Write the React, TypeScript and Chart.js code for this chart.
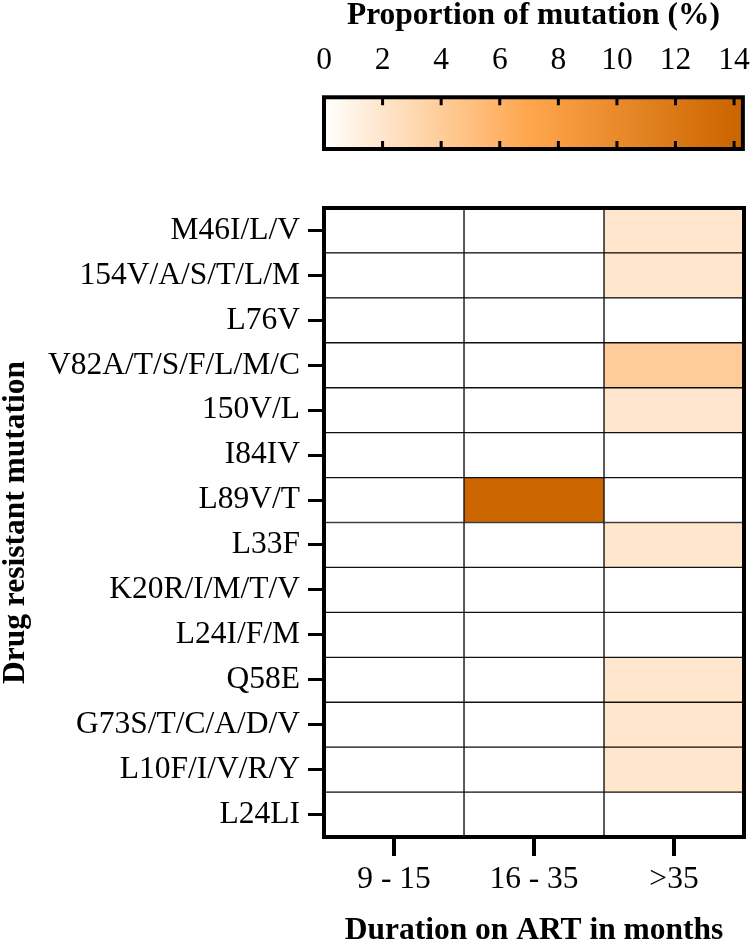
import React, { useEffect, useRef } from "react";
import { Chart, registerables } from "chart.js";

Chart.register(...registerables);

const rowLabels = [
  "M46I/L/V",
  "154V/A/S/T/L/M",
  "L76V",
  "V82A/T/S/F/L/M/C",
  "150V/L",
  "I84IV",
  "L89V/T",
  "L33F",
  "K20R/I/M/T/V",
  "L24I/F/M",
  "Q58E",
  "G73S/T/C/A/D/V",
  "L10F/I/V/R/Y",
  "L24LI",
];
const colLabels = ["9 - 15", "16 - 35", ">35"];
const col9to15 = [0, 0, 0, 0, 0, 0, 0, 0, 0, 0, 0, 0, 0, 0];
const col16to35 = [0, 0, 0, 0, 0, 0, 14, 0, 0, 0, 0, 0, 0, 0];
const colOver35 = [2, 2, 0, 4, 2, 0, 0, 2, 0, 0, 2, 2, 2, 0];
const colorbarTicks = [0, 2, 4, 6, 8, 10, 12, 14];
const colorStopValues = [0, 7, 14];
const colorStopColors = ["#FFFFFF", "#FFA64D", "#CC6600"];
const colorbarMax = 14.3;

const FONT = "'Liberation Serif', 'Times New Roman', serif";
const FS = 31.5;

function hexToRgb(h: string) {
  const n = parseInt(h.slice(1), 16);
  return [(n >> 16) & 255, (n >> 8) & 255, n & 255];
}
function valueToColor(v: number) {
  const vmin = colorStopValues[0];
  const vmax = colorStopValues[colorStopValues.length - 1];
  const x = Math.max(vmin, Math.min(vmax, v));
  for (let i = 0; i < colorStopValues.length - 1; i++) {
    const a = colorStopValues[i];
    const b = colorStopValues[i + 1];
    if (x >= a && x <= b) {
      const t = (x - a) / (b - a);
      const c1 = hexToRgb(colorStopColors[i]);
      const c2 = hexToRgb(colorStopColors[i + 1]);
      const c = c1.map((k, j) => Math.round(k + (c2[j] - k) * t));
      return `rgb(${c[0]},${c[1]},${c[2]})`;
    }
  }
  return colorStopColors[colorStopColors.length - 1];
}

const framePlugin = {
  id: "frame",
  afterDatasetsDraw(chart: any) {
    const { ctx, chartArea } = chart;
    ctx.save();
    ctx.strokeStyle = "#000";
    ctx.lineWidth = 4;
    ctx.strokeRect(chartArea.left, chartArea.top, chartArea.right - chartArea.left, chartArea.bottom - chartArea.top);
    ctx.restore();
  },
};

const innerTicksPlugin = {
  id: "innerTicks",
  afterDatasetsDraw(chart: any) {
    const { ctx, chartArea } = chart;
    const xs = chart.scales.x;
    ctx.save();
    ctx.strokeStyle = "#000";
    ctx.lineWidth = 3;
    colorbarTicks.forEach((v) => {
      if (v === 0) return;
      const px = xs.getPixelForValue(v);
      ctx.beginPath();
      ctx.moveTo(px, chartArea.top);
      ctx.lineTo(px, chartArea.top + 8);
      ctx.moveTo(px, chartArea.bottom);
      ctx.lineTo(px, chartArea.bottom - 8);
      ctx.stroke();
    });
    ctx.restore();
  },
};

export default function App() {
  const barRef = useRef<HTMLCanvasElement>(null);
  const heatRef = useRef<HTMLCanvasElement>(null);

  useEffect(() => {
    const cb = new Chart(barRef.current!, {
      type: "bar",
      data: {
        labels: ["scale"],
        datasets: [
          {
            data: [[0, colorbarMax]] as any,
            backgroundColor: (ctx: any) => {
              const chart = ctx.chart;
              if (!chart.chartArea) return "#fff";
              const xs = chart.scales.x;
              const last = colorStopValues[colorStopValues.length - 1];
              const p0 = xs.getPixelForValue(colorStopValues[0]);
              const p1 = xs.getPixelForValue(last);
              const g = chart.ctx.createLinearGradient(p0, 0, p1, 0);
              colorStopValues.forEach((v, i) => g.addColorStop(v / last, colorStopColors[i]));
              return g;
            },
            borderWidth: 0,
            barPercentage: 1,
            categoryPercentage: 1,
          },
        ],
      },
      options: {
        indexAxis: "y",
        responsive: false,
        animation: false,
        layout: { padding: { left: 324, right: 7, top: 0, bottom: 11 } },
        plugins: {
          legend: { display: false },
          tooltip: { enabled: false },
          title: {
            display: true,
            text: "Proportion of mutation (%)",
            fullSize: false,
            color: "#000",
            font: { family: FONT, size: FS, weight: "bold", lineHeight: 0.5 },
            padding: { top: 7.5, bottom: 0 },
          },
        },
        scales: {
          x: {
            type: "linear",
            position: "top",
            min: 0,
            max: colorbarMax,
            afterBuildTicks: (s: any) => {
              s.ticks = colorbarTicks.map((v) => ({ value: v }));
            },
            ticks: {
              color: "#000",
              font: { family: FONT, size: FS, lineHeight: 2.35 },
              padding: 0,
              maxRotation: 0,
              autoSkip: false,
            },
            grid: { display: false, drawTicks: false },
            border: { display: false },
          },
          y: { display: false },
        },
      } as any,
      plugins: [framePlugin, innerTicksPlugin],
    });

    const columns = [col9to15, col16to35, colOver35];
    const heat = new Chart(heatRef.current!, {
      type: "bar",
      data: {
        labels: rowLabels,
        datasets: columns.map((vals, c) => ({
          label: colLabels[c],
          data: vals.map(() => [c, c + 1]) as any,
          backgroundColor: vals.map(valueToColor),
          borderColor: "#111",
          borderWidth: 1,
          borderSkipped: false,
          barPercentage: 1,
          categoryPercentage: 1,
          grouped: false,
        })),
      },
      options: {
        indexAxis: "y",
        responsive: false,
        animation: false,
        layout: { padding: { left: 0, right: 6, top: 48, bottom: 0 } },
        plugins: { legend: { display: false }, tooltip: { enabled: false } },
        scales: {
          x: {
            type: "linear",
            position: "bottom",
            min: 0,
            max: 3,
            afterBuildTicks: (s: any) => {
              s.ticks = colLabels.map((_, i) => ({ value: i + 0.5 }));
            },
            ticks: {
              callback: (_v: any, i: number) => colLabels[i],
              color: "#000",
              font: { family: FONT, size: FS, lineHeight: 1 },
              padding: 8.25,
              maxRotation: 0,
              autoSkip: false,
            },
            grid: { drawOnChartArea: false, drawTicks: true, tickLength: 19, lineWidth: 4, color: "#000" },
            border: { display: false },
            title: {
              display: true,
              text: "Duration on ART in months",
              color: "#000",
              font: { family: FONT, size: FS, weight: "bold", lineHeight: 0.571 },
              padding: { top: 18, bottom: 0 },
            },
          },
          y: {
            type: "category",
            afterFit: (s: any) => {
              s.width = 324;
            },
            ticks: {
              color: "#000",
              font: { family: FONT, size: FS, lineHeight: 1 },
              padding: 8,
              autoSkip: false,
            },
            grid: { drawOnChartArea: false, drawTicks: true, tickLength: 16, lineWidth: 3, color: "#000", offset: false },
            border: { display: false },
            title: {
              display: true,
              text: "Drug resistant mutation",
              color: "#000",
              font: { family: FONT, size: FS, weight: "bold", lineHeight: 1 },
              padding: 0,
            },
          },
        },
      } as any,
      plugins: [framePlugin],
    });

    return () => {
      cb.destroy();
      heat.destroy();
    };
  }, []);

  return (
    <div style={{ position: "fixed", left: 0, top: 0, width: 750, height: 940, background: "#fff" }}>
      <canvas ref={barRef} width={750} height={160} style={{ position: "absolute", left: 0, top: 0 }} />
      <canvas ref={heatRef} width={750} height={780} style={{ position: "absolute", left: 0, top: 160 }} />
    </div>
  );
}
